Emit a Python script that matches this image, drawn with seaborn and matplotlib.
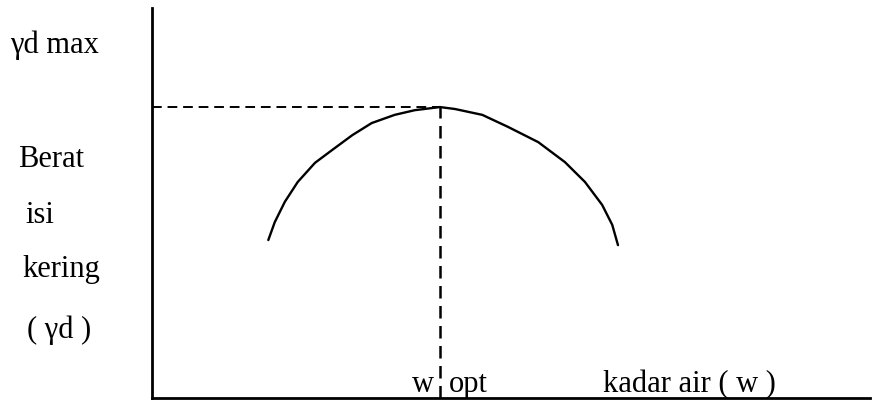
#!/usr/bin/env python
# -*- coding: utf-8 -*-
"""
Kurva pemadatan: berat isi kering vs kadar air
"""

import matplotlib
matplotlib.use('Agg')
import matplotlib.pyplot as plt
import seaborn as sns
import pandas as pd

# data (satuan relatif, 0-100)
kadar_air = [16.2, 17.1, 18.5, 20.3, 22.7, 25.1, 27.9, 30.6, 33.8, 36.6,
             40.1, 42.2, 46.0, 49.6, 53.8, 57.5, 60.3, 62.7, 64.1, 64.9]
berat_isi = [40.5, 45.1, 50.3, 55.4, 60.3, 63.6, 67.4, 70.5, 72.6, 73.8,
             74.6, 74.1, 72.6, 69.5, 65.6, 60.5, 55.4, 49.5, 44.4, 39.2]
w_opt = 40.1
gd_max = 74.6

sns.set_style("white")
plt.rcParams['font.family'] = ['Liberation Serif', 'DejaVu Serif']
plt.rcParams['text.color'] = 'black'


def main():
    df = pd.DataFrame({'w': kadar_air, 'gd': berat_isi})

    fig = plt.figure(figsize=(8.73, 4.01), dpi=100)
    W, H = 873, 401
    ax = fig.add_axes([152 / W, 3 / H, (870 - 152) / W, (398 - 8) / H])

    # kurva
    sns.lineplot(data=df, x='w', y='gd', sort=False, color='black',
                 linewidth=1.7, solid_joinstyle='round', ax=ax)

    # garis putus-putus ke gd max dan w opt
    ax.plot([0, w_opt], [gd_max, gd_max], color='black', linestyle=(0, (5, 3)),
            linewidth=1.4)
    ax.plot([w_opt, w_opt], [0, gd_max], color='black', linestyle=(0, (5, 3)),
            linewidth=1.8)

    ax.set_xlim(0, 100)
    ax.set_ylim(0, 100)
    ax.set_xticks([])
    ax.set_yticks([])
    ax.set_xlabel('')
    ax.set_ylabel('')
    for s in ['top', 'right']:
        ax.spines[s].set_visible(False)
    for s in ['left', 'bottom']:
        ax.spines[s].set_color('black')
        ax.spines[s].set_linewidth(2)
    ax.patch.set_alpha(0)

    fs = 22
    # label sumbu y (kiri)
    labels = [(10, 53, 'γd max'), (18, 167, 'Berat'), (25, 223, 'isi'),
              (22, 277, 'kering'), (27, 338, '( γd )')]
    for px, py, t in labels:
        fig.text(px / W, 1 - py / H, t, fontsize=fs, va='baseline', ha='left',
                 color='black')

    # label sumbu x
    fig.text(412 / W, 1 - 392 / H, 'w', fontsize=fs, va='baseline', color='black')
    fig.text(449 / W, 1 - 392 / H, 'opt', fontsize=fs, va='baseline', color='black')
    fig.text(603 / W, 1 - 392 / H, 'kadar air ( w )', fontsize=fs,
             va='baseline', color='black')

    plt.savefig('out.png', dpi=100)
    plt.close()


if __name__ == "__main__":
    main()
